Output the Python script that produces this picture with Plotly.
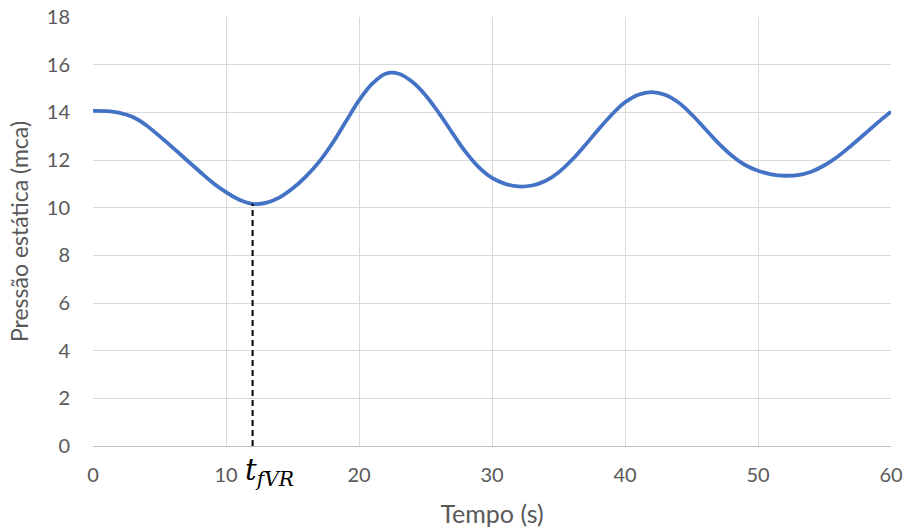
import plotly.graph_objects as go

time_s = list(range(0, 61))
pressure = [14.06, 14.05, 13.98, 13.80, 13.46, 13.00, 12.52, 12.02, 11.53, 11.05,
            10.65, 10.33, 10.16, 10.20, 10.42, 10.80, 11.30, 11.92, 12.70, 13.60,
            14.50, 15.20, 15.62, 15.62, 15.28, 14.72, 13.98, 13.15, 12.35, 11.70,
            11.25, 11.00, 10.89, 10.93, 11.12, 11.48, 12.00, 12.62, 13.28, 13.90,
            14.42, 14.74, 14.85, 14.74, 14.42, 13.92, 13.32, 12.72, 12.20, 11.80,
            11.55, 11.40, 11.34, 11.37, 11.51, 11.78, 12.15, 12.60, 13.08, 13.57,
            14.03]

t_fvr = [12.0, 12.0]
t_fvr_p = [0, 10.16]

x_ticks = [0, 10, 20, 30, 40, 50, 60]
y_ticks = [0, 2, 4, 6, 8, 10, 12, 14, 16, 18]

fig = go.Figure()
fig.add_trace(go.Scatter(x=time_s, y=pressure, mode="lines",
                         line=dict(color="#4472C4", width=3.8, shape="spline", smoothing=1.0),
                         showlegend=False, hoverinfo="skip"))
fig.add_trace(go.Scatter(x=t_fvr, y=t_fvr_p, mode="lines",
                         line=dict(color="black", width=2, dash="6px,4px"),
                         showlegend=False, hoverinfo="skip"))

fig.add_annotation(x=13.3, xref="x", y=-0.012, yref="paper", yanchor="top", xanchor="center",
                   showarrow=False,
                   text="<i>t</i><sub><i>fVR</i></sub>",
                   font=dict(family="DejaVu Serif, Liberation Serif, serif", size=29, color="black"))

font_family = "Lato, Liberation Sans, sans-serif"
tick_font = dict(family=font_family, size=20, color="#595959")
fig.update_layout(
    width=907, height=532,
    margin=dict(l=93, r=16, t=17, b=86),
    paper_bgcolor="white", plot_bgcolor="white",
    xaxis=dict(range=[0, 60], tickvals=x_ticks, ticktext=[str(v) for v in x_ticks],
               showgrid=True, gridcolor="#D9D9D9", gridwidth=1.3, zeroline=False,
               showline=True, linecolor="#BFBFBF", linewidth=1.3,
               tickfont=tick_font, ticks="", ticklabelstandoff=11, automargin=False,
               ticklabeloverflow="allow",
               title=dict(text="Tempo (s)", font=dict(family=font_family, size=25, color="#595959"), standoff=20)),
    yaxis=dict(range=[0, 18], tickvals=y_ticks, ticktext=[str(v) for v in y_ticks],
               showgrid=True, gridcolor="#D9D9D9", gridwidth=1.3, zeroline=False,
               tickfont=tick_font, ticks="", ticklabelstandoff=22, automargin=False,
               ticklabeloverflow="allow",
               title=dict(text="Pressão estática (mca)", font=dict(family=font_family, size=23, color="#595959"), standoff=11)),
)

fig.write_html("out.html",
               config={"displayModeBar": False},
               post_script="document.body.style.margin='0';document.body.style.overflow='hidden';")
